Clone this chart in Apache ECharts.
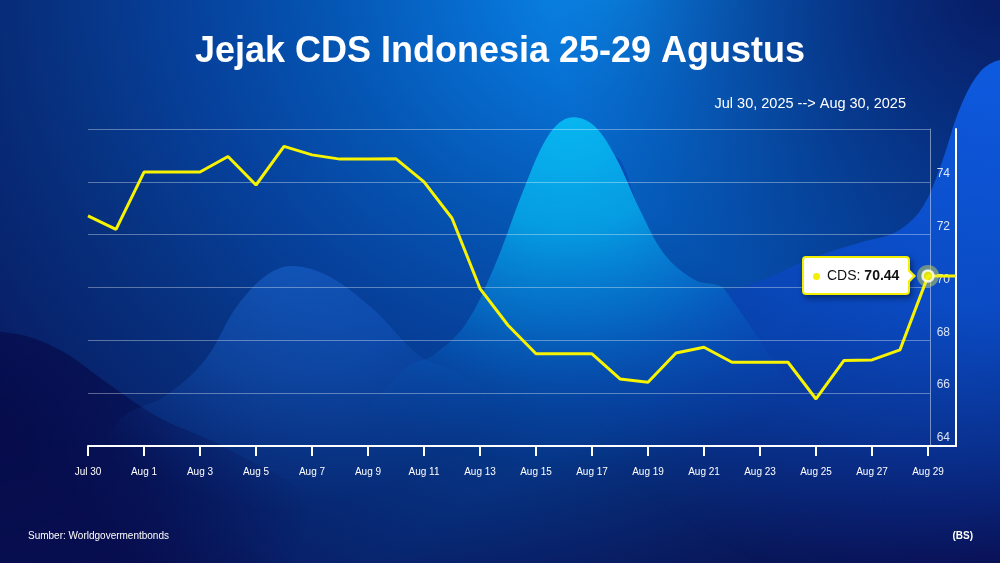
<!DOCTYPE html>
<html>
<head>
<meta charset="utf-8">
<title>Jejak CDS Indonesia 25-29 Agustus</title>
<script src="https://cdn.jsdelivr.net/npm/echarts@6/dist/echarts.min.js"></script>
<style>
  html, body { margin: 0; padding: 0; }
  #main {
    width: 1000px;
    height: 563px;
    background:
      linear-gradient(to left top, rgba(10, 6, 64, 0.85) 0%, rgba(10, 6, 64, 0) 32%),
      radial-gradient(ellipse 45% 60% at 100% 0%, rgba(8, 24, 96, 0.9) 0%, rgba(8, 24, 96, 0) 100%),
      radial-gradient(ellipse 80% 130% at 62% -5%, #0a8ded 0%, #076fd2 18%, #0556b4 36%, #06419c 54%, #07317f 72%, #08216a 90%, #0a1256 100%);
  }
</style>
</head>
<body>
<div id="main"></div>
<script>
var myChart = echarts.init(document.getElementById('main'));

// CDS Indonesia (5Y), daily
var dates = [
  'Jul 30', 'Jul 31', 'Aug 1', 'Aug 2', 'Aug 3', 'Aug 4', 'Aug 5', 'Aug 6',
  'Aug 7', 'Aug 8', 'Aug 9', 'Aug 10', 'Aug 11', 'Aug 12', 'Aug 13', 'Aug 14',
  'Aug 15', 'Aug 16', 'Aug 17', 'Aug 18', 'Aug 19', 'Aug 20', 'Aug 21', 'Aug 22',
  'Aug 23', 'Aug 24', 'Aug 25', 'Aug 26', 'Aug 27', 'Aug 28', 'Aug 29', 'Aug 30'
];
var cds = [
  72.71, 72.20, 74.37, 74.37, 74.37, 74.96, 73.88, 75.34,
  75.02, 74.86, 74.86, 74.87, 74.00, 72.62, 69.96, 68.57,
  67.49, 67.49, 67.49, 66.54, 66.41, 67.52, 67.74, 67.17,
  67.17, 67.17, 65.78, 67.24, 67.26, 67.64, 70.44, 70.44
];
var yMin = 64, yMax = 76, yStep = 2;
var hiIndex = 30; // Aug 29, the point with the tooltip

var hiPoint = [[dates[hiIndex], cds[hiIndex]]];

var font = 'Liberation Sans, Arial, sans-serif';
var RG = echarts.graphic.RadialGradient;

function wave(points, fill, z) {
  return {
    type: 'polygon',
    silent: true,
    z: z,
    shape: { points: points, smooth: 0.35 },
    style: { fill: fill }
  };
}

// decorative background waves
var waves = [
  // dark blob, bottom left
  wave([[-80, 700], [-80, 334], [10, 333], [60, 350], [110, 385], [160, 418], [230, 450], [330, 520], [360, 700]],
    new RG(0, 430, 320, [
      {offset: 0, color: 'rgba(6,12,75,0.9)'},
      {offset: 0.5, color: 'rgba(6,12,75,0.6)'},
      {offset: 1, color: 'rgba(6,12,75,0)'}
    ], true), -20),
  // soft bump
  wave([[-40, 700], [60, 520], [120, 420], [165, 396], [205, 360], [240, 302], [280, 268], [322, 273], [372, 308], [420, 356], [470, 380], [560, 470], [640, 700]],
    new RG(285, 250, 260, [
      {offset: 0, color: 'rgba(28,105,212,0.55)'},
      {offset: 0.5, color: 'rgba(25,95,202,0.38)'},
      {offset: 0.8, color: 'rgba(20,85,190,0.15)'},
      {offset: 1, color: 'rgba(20,85,190,0)'}
    ], true), -19),
  // bright blue rise on the right
  wave([[380, 720], [470, 430], [540, 300], [585, 190], [615, 156], [640, 210], [665, 255], [695, 280], [725, 290], [762, 280], [812, 258], [862, 242], [896, 232], [922, 208], [942, 162], [960, 108], [980, 72], [1000, 60], [1060, 54], [1080, 720]],
    new RG(1000, 40, 640, [
      {offset: 0, color: 'rgba(14,92,226,1)'},
      {offset: 0.42, color: 'rgba(11,76,198,0.97)'},
      {offset: 0.65, color: 'rgba(10,64,176,0.6)'},
      {offset: 0.9, color: 'rgba(10,45,150,0)'}
    ], true), -18),
  // cyan peak
  wave([[200, 720], [340, 450], [405, 368], [432, 356], [465, 325], [495, 265], [525, 186], [548, 136], [568, 118], [592, 124], [615, 156], [640, 210], [665, 255], [695, 280], [725, 290], [830, 470], [900, 720]],
    new RG(568, 100, 370, [
      {offset: 0, color: 'rgba(8,186,242,1)'},
      {offset: 0.35, color: 'rgba(6,160,228,0.95)'},
      {offset: 0.6, color: 'rgba(6,124,210,0.66)'},
      {offset: 0.85, color: 'rgba(6,92,192,0.18)'},
      {offset: 1, color: 'rgba(6,92,192,0)'}
    ], true), -17)
];

var dot = '<span style="display:inline-block;width:7px;height:7px;border-radius:50%;background:#f4ee00;margin-right:7px;vertical-align:middle;"></span>';

option = {
  backgroundColor: 'transparent',
  animation: false,
  textStyle: { fontFamily: font },
  graphic: waves,
  title: [
    {
      text: 'Jejak CDS Indonesia 25-29 Agustus',
      left: 'center',
      top: 29,
      textStyle: { color: '#fff', fontSize: 36, fontWeight: 'bold', fontFamily: font }
    },
    {
      text: 'Jul 30, 2025 --> Aug 30, 2025',
      right: 89,
      top: 91,
      textStyle: { color: '#fff', fontSize: 14.5, fontWeight: 'normal', fontFamily: font }
    },
    {
      text: 'Sumber: Worldgovermentbonds',
      left: 23,
      top: 526,
      textStyle: { color: '#fff', fontSize: 10, fontWeight: 'normal', fontFamily: font }
    },
    {
      text: '(BS)',
      right: 22,
      top: 526,
      textStyle: { color: '#fff', fontSize: 10, fontWeight: 'bold', fontFamily: font }
    }
  ],
  tooltip: {
    trigger: 'item',
    triggerOn: 'none',
    alwaysShowContent: true,
    position: 'left',
    backgroundColor: '#fff',
    borderColor: '#f4ee00',
    borderWidth: 2,
    padding: [7, 9],
    textStyle: { color: '#111', fontSize: 14, fontFamily: font },
    extraCssText: 'border-radius:4px; box-shadow: 2px 3px 6px rgba(0,0,0,0.45);',
    formatter: function (p) {
      return dot + 'CDS: <b>' + p.value[1].toFixed(2) + '</b>';
    }
  },
  grid: [
    { left: 88, right: 44, top: 129, bottom: 117 },
    { left: 88, right: 70, top: 129, bottom: 117 }
  ],
  xAxis: [
    {
      type: 'category',
      gridIndex: 0,
      data: dates,
      boundaryGap: false,
      axisLine: { lineStyle: { color: '#fff', width: 2 } },
      axisTick: { interval: 1, length: 10, lineStyle: { color: '#fff', width: 2 } },
      axisLabel: { interval: 1, color: '#fff', fontSize: 10, margin: 21 },
      splitLine: { show: false }
    },
    {
      type: 'category',
      gridIndex: 1,
      data: dates,
      boundaryGap: false,
      show: false
    }
  ],
  yAxis: [
    {
      type: 'value',
      gridIndex: 0,
      position: 'right',
      min: yMin,
      max: yMax,
      interval: yStep,
      axisLine: { show: true, lineStyle: { color: '#fff', width: 2 } },
      axisTick: { show: false },
      axisLabel: {
        inside: true, margin: 6, color: 'rgba(255,255,255,0.85)', fontSize: 12,
        verticalAlign: 'bottom', lineHeight: 16, showMaxLabel: false
      },
      splitLine: { show: false }
    },
    {
      type: 'value',
      gridIndex: 1,
      position: 'right',
      min: yMin,
      max: yMax,
      interval: yStep,
      axisLine: { show: true, lineStyle: { color: 'rgba(255,255,255,0.45)', width: 1 } },
      axisTick: { show: false },
      axisLabel: { show: false },
      splitLine: { lineStyle: { color: 'rgba(255,255,255,0.35)', width: 1 } }
    }
  ],
  series: [
    {
      name: 'CDS',
      type: 'line',
      xAxisIndex: 0,
      yAxisIndex: 0,
      data: cds,
      showSymbol: false,
      lineStyle: { color: '#f8f400', width: 3 },
      itemStyle: { color: '#f8f400' },
      z: 5
    },
    {
      name: 'halo',
      type: 'scatter',
      xAxisIndex: 0,
      yAxisIndex: 0,
      data: hiPoint,
      symbolSize: 22,
      itemStyle: { color: 'rgba(235,235,60,0.55)' },
      emphasis: { scale: false },
      tooltip: { show: false },
      z: 6
    },
    {
      name: 'CDS',
      type: 'scatter',
      xAxisIndex: 0,
      yAxisIndex: 0,
      data: hiPoint,
      symbolSize: 11,
      itemStyle: { color: '#f8f400', borderColor: '#fff', borderWidth: 2.5 },
      emphasis: { scale: false },
      z: 7
    }
  ]
};

myChart.setOption(option);
myChart.dispatchAction({ type: 'showTip', seriesIndex: 2, dataIndex: 0 });
</script>
</body>
</html>
